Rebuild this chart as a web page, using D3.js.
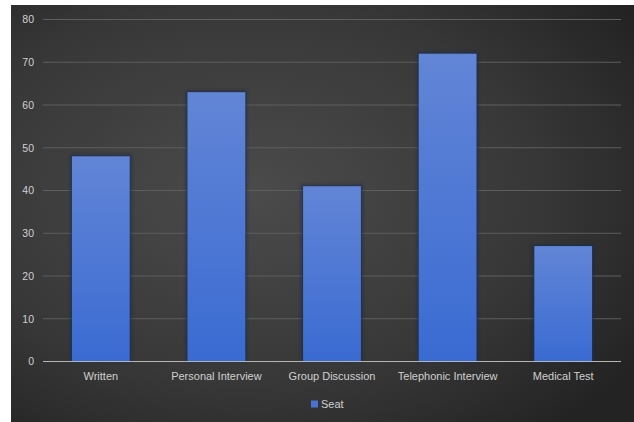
<!DOCTYPE html>
<html>
<head>
<meta charset="utf-8">
<script src="https://cdn.jsdelivr.net/npm/d3@7"></script>
<style>
  html, body { margin: 0; padding: 0; background: #ffffff; }
  svg { display: block; }
</style>
</head>
<body>
<svg id="chart" width="634" height="422"></svg>
<script>
// Selection stages and their counts
const categories = ["Written", "Personal Interview", "Group Discussion", "Telephonic Interview", "Medical Test"];
const seatValues = [48, 63, 41, 72, 27];
const yTicks = [0, 10, 20, 30, 40, 50, 60, 70, 80];
const seriesName = "Seat";

const svg = d3.select("#chart");
const W = 634, H = 422;
const FONT = "'Liberation Sans', Arial, sans-serif";

// Chart area frame with dark radial backdrop
const defs = svg.append("defs");
const bg = defs.append("radialGradient").attr("id", "bgGrad")
  .attr("cx", "0.38").attr("cy", "0.45").attr("r", "0.75");
bg.append("stop").attr("offset", "0%").attr("stop-color", "#4b4b4b");
bg.append("stop").attr("offset", "60%").attr("stop-color", "#383838");
bg.append("stop").attr("offset", "100%").attr("stop-color", "#232323");

const barGrad = defs.append("linearGradient").attr("id", "barGrad")
  .attr("x1", 0).attr("y1", 0).attr("x2", 0).attr("y2", 1);
barGrad.append("stop").attr("offset", "0%").attr("stop-color", "#6285d6");
barGrad.append("stop").attr("offset", "100%").attr("stop-color", "#3a6bd2");

const blur = defs.append("filter").attr("id", "shadow")
  .attr("x", "-20%").attr("y", "-20%").attr("width", "140%").attr("height", "140%");
blur.append("feGaussianBlur").attr("stdDeviation", 1.5);

svg.append("rect")
  .attr("x", 11).attr("y", 5).attr("width", W - 11).attr("height", H - 5)
  .attr("fill", "url(#bgGrad)");

const plot = { left: 43, right: 621, top: 19.5, bottom: 361.5 };

const x = d3.scaleBand()
  .domain(categories)
  .range([plot.left, plot.right])
  .paddingInner(0.5)
  .paddingOuter(0.25);

const y = d3.scaleLinear()
  .domain([0, 80])
  .range([plot.bottom, plot.top]);

// Horizontal gridlines
svg.append("g")
  .selectAll("line")
  .data(yTicks.filter(d => d > 0))
  .join("line")
  .attr("x1", plot.left).attr("x2", plot.right)
  .attr("y1", d => y(d)).attr("y2", d => y(d))
  .attr("stroke", "#5e5e5e").attr("stroke-width", 1);

// Y axis labels
const yAxis = d3.axisLeft(y).tickValues(yTicks).tickSize(0).tickPadding(9);
const gy = svg.append("g").attr("transform", `translate(${plot.left},0)`).call(yAxis);
gy.select(".domain").remove();
gy.selectAll("text")
  .attr("fill", "#d0d0d0")
  .style("font-family", FONT)
  .style("font-size", "10.5px");

// Bar shadows
svg.append("g")
  .selectAll("rect")
  .data(categories)
  .join("rect")
  .attr("x", d => x(d) - 1.5)
  .attr("y", (d, i) => y(seatValues[i]) - 1.5)
  .attr("width", x.bandwidth() + 3)
  .attr("height", (d, i) => y(0) - y(seatValues[i]) + 1.5)
  .attr("fill", "#1a2a4a")
  .attr("filter", "url(#shadow)")
  .attr("opacity", 0.8);

// Bars
svg.append("g")
  .selectAll("rect")
  .data(categories)
  .join("rect")
  .attr("x", d => x(d))
  .attr("y", (d, i) => y(seatValues[i]))
  .attr("width", x.bandwidth())
  .attr("height", (d, i) => y(0) - y(seatValues[i]))
  .attr("fill", "url(#barGrad)");

// Baseline
svg.append("line")
  .attr("x1", plot.left).attr("x2", plot.right)
  .attr("y1", y(0)).attr("y2", y(0))
  .attr("stroke", "#b5b5b5").attr("stroke-width", 1.2);

// Category labels
const xAxis = d3.axisBottom(x).tickSize(0).tickPadding(11);
const gx = svg.append("g").attr("transform", `translate(0,${plot.bottom})`).call(xAxis);
gx.select(".domain").remove();
gx.selectAll("text")
  .attr("fill", "#d0d0d0")
  .style("font-family", FONT)
  .style("font-size", "11px");

// Legend
const legend = svg.append("g").attr("transform", "translate(311,404)");
legend.append("rect")
  .attr("x", 0).attr("y", -3.5).attr("width", 7).attr("height", 7)
  .attr("fill", "#4a72d0");
legend.append("text")
  .attr("x", 10).attr("y", 0).attr("dy", "0.35em")
  .attr("fill", "#d0d0d0")
  .style("font-family", FONT)
  .style("font-size", "11px")
  .text(seriesName);
</script>
</body>
</html>
